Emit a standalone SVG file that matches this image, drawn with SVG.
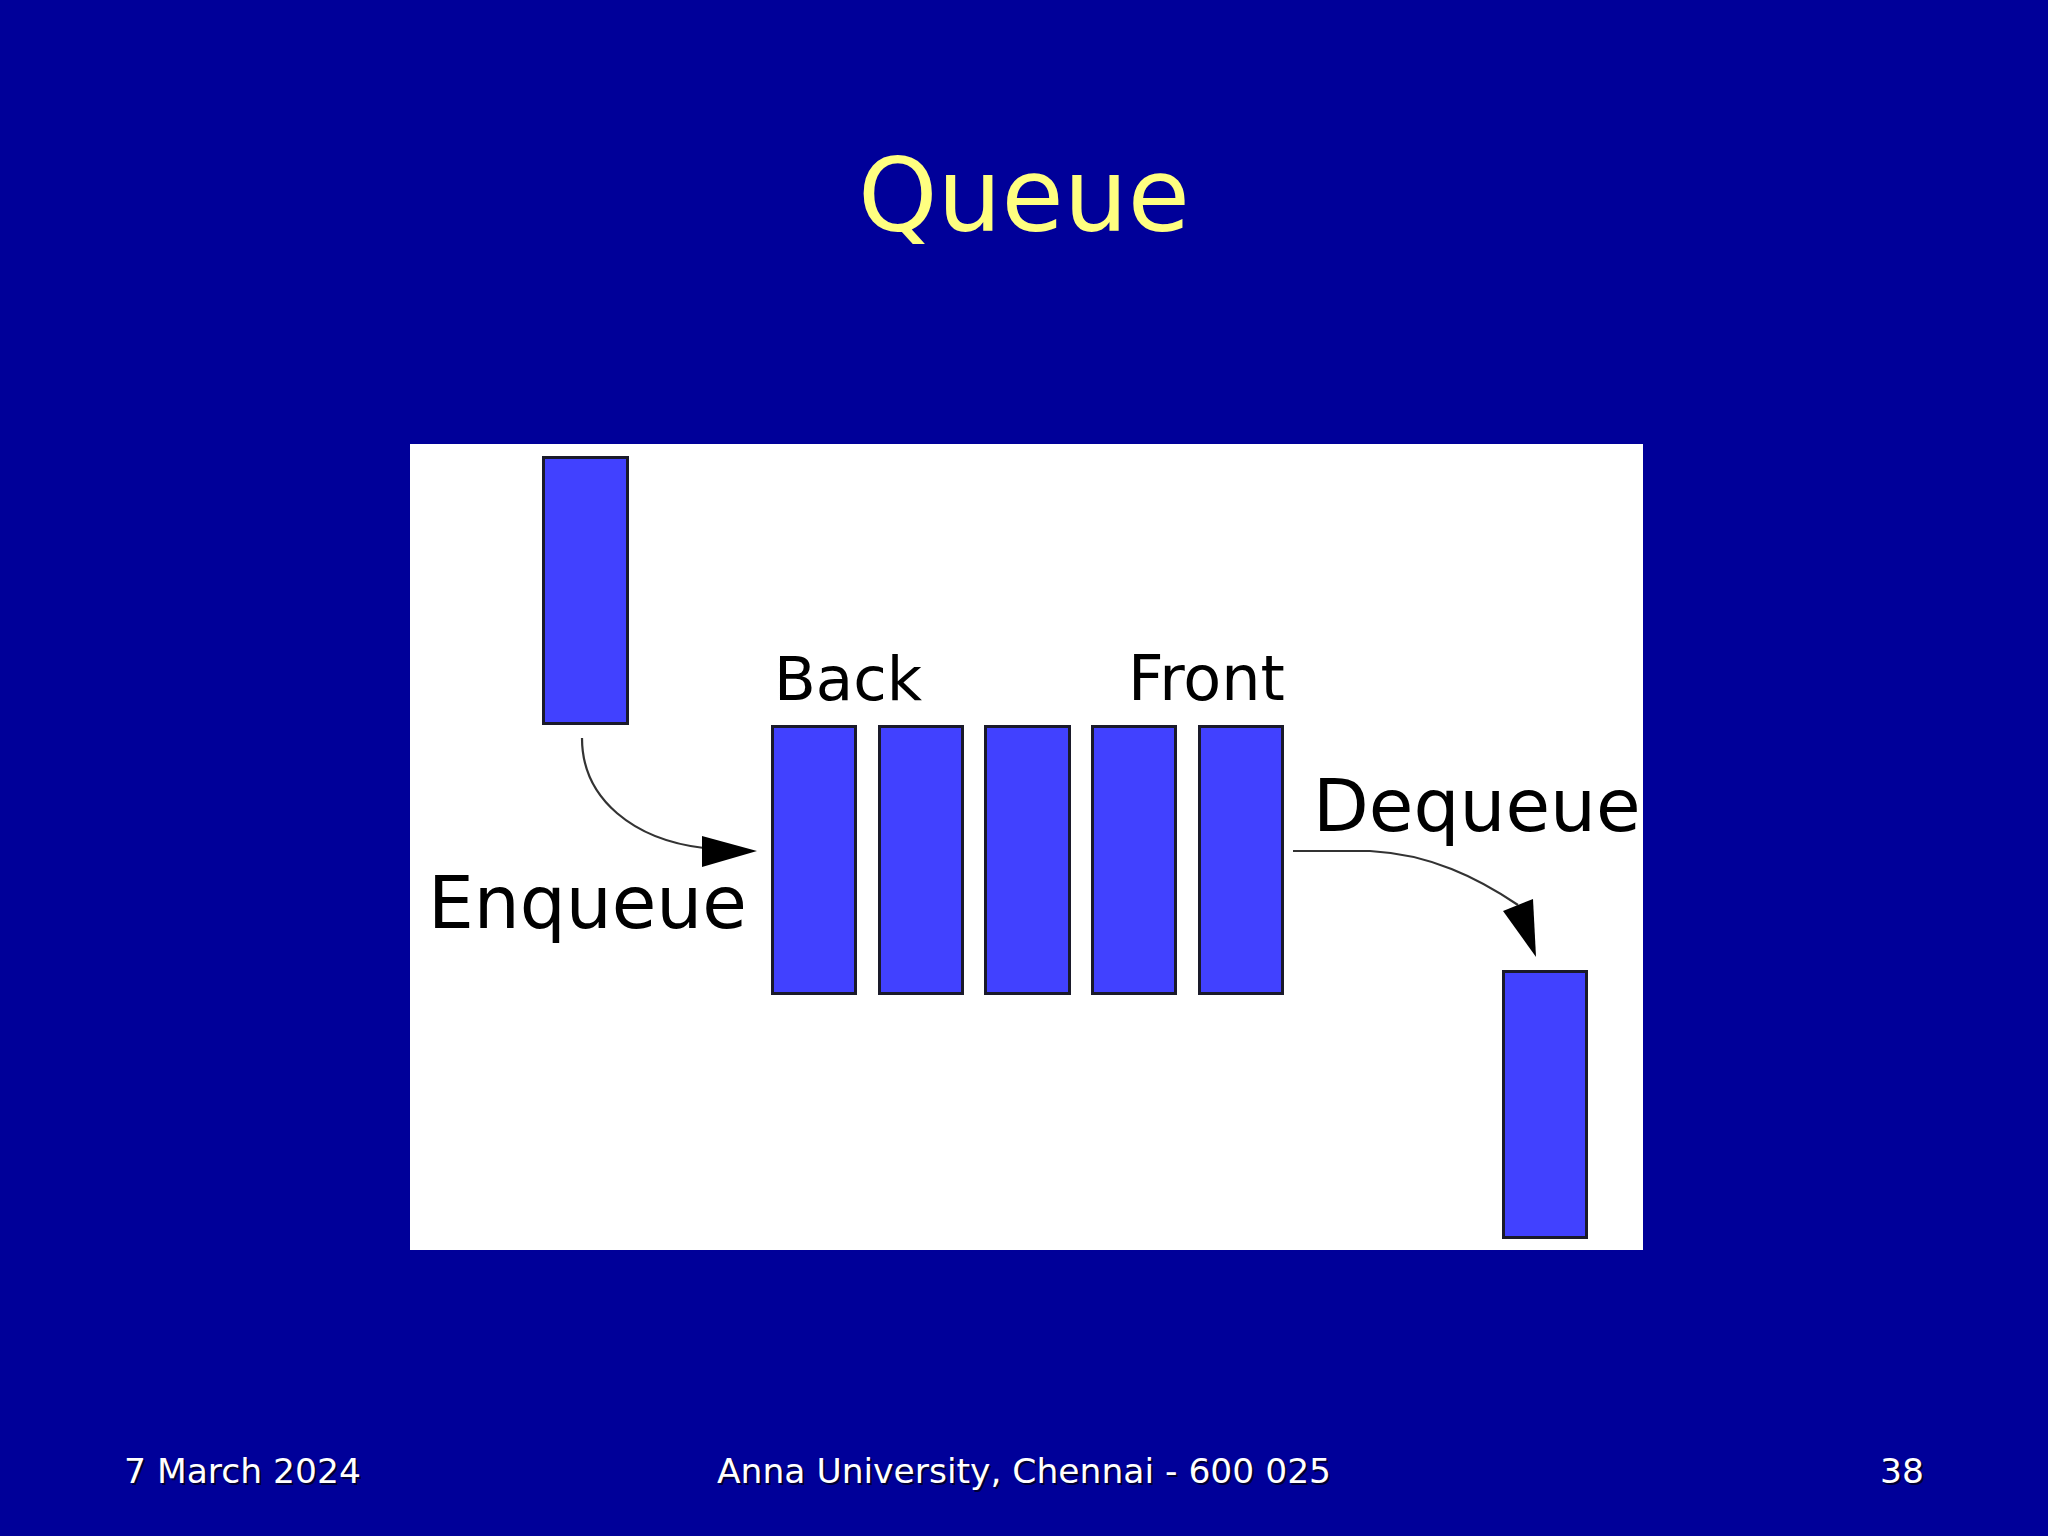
<svg xmlns="http://www.w3.org/2000/svg" width="2048" height="1536" viewBox="0 0 2048 1536">
<style>
.bar{fill:#4141FF;stroke:#1a1a2a;stroke-width:3}
.lbl{font-family:"DejaVu Sans",Verdana,sans-serif;fill:#000}
.conn{fill:none;stroke:#333;stroke-width:2.2}
.head{fill:#000}
.foot{font-family:"DejaVu Sans",Verdana,sans-serif;font-size:34.5px;fill:#fff}
.shadow{font-family:"DejaVu Sans",Verdana,sans-serif;font-size:34.5px;fill:#000033}
</style>
<rect x="0" y="0" width="2048" height="1536" fill="#000099"/>
<text x="1024" y="231" text-anchor="middle" font-family="DejaVu Sans, Verdana, sans-serif" font-size="101" fill="#FFFF80">Queue</text>
<rect id="panel" x="410" y="444" width="1233" height="806" fill="#fff"/>
<g id="incoming"><rect class="bar" x="543.5" y="457.5" width="84" height="266"/></g>
<g id="q1"><rect class="bar" x="772.5" y="726.5" width="83" height="267"/></g>
<g id="q2"><rect class="bar" x="879.5" y="726.5" width="83" height="267"/></g>
<g id="q3"><rect class="bar" x="985.5" y="726.5" width="84" height="267"/></g>
<g id="q4"><rect class="bar" x="1092.5" y="726.5" width="83" height="267"/></g>
<g id="q5"><rect class="bar" x="1199.5" y="726.5" width="83" height="267"/></g>
<g id="outgoing"><rect class="bar" x="1503.5" y="971.5" width="83" height="266"/></g>
<g id="labels">
<text class="lbl" x="774" y="700" font-size="61">Back</text>
<text class="lbl" x="1128" y="700" font-size="62">Front</text>
<text class="lbl" x="428" y="928" font-size="72.5">Enqueue</text>
<text class="lbl" x="1313" y="831" font-size="72.5">Dequeue</text>
</g>
<g id="connectors">
<path class="conn" d="M582,738 C582,800 635,840 704,848"/>
<polygon class="head" points="702,836 757,851 702,867"/>
<path class="conn" d="M1293,851 L1370,851 C1430,854 1478,878 1518,905"/>
<polygon class="head" points="1503,911 1533,899 1536,957"/>
</g>
<g id="footer">
<text class="shadow" x="126" y="1485">7 March 2024</text>
<text class="foot" x="124" y="1483">7 March 2024</text>
<text class="shadow" x="1026" y="1485" text-anchor="middle">Anna University, Chennai - 600 025</text>
<text class="foot" x="1024" y="1483" text-anchor="middle">Anna University, Chennai - 600 025</text>
<text class="shadow" x="1926" y="1485" text-anchor="end">38</text>
<text class="foot" x="1924" y="1483" text-anchor="end">38</text>
</g>
</svg>
